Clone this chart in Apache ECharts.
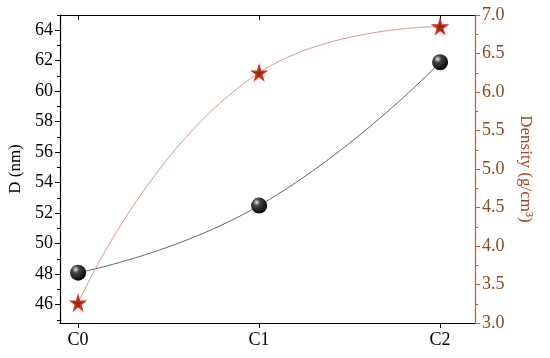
<!DOCTYPE html>
<html>
<head>
<meta charset="utf-8">
<script src="https://cdn.jsdelivr.net/npm/echarts@6/dist/echarts.min.js"></script>
<style>
  html, body { margin: 0; padding: 0; background: #fff; }
  #chart { width: 550px; height: 358px; }
</style>
</head>
<body>
<div id="chart"></div>
<script>
// samples along x
var samples = ['C0', 'C1', 'C2'];
// crystallite size D (nm), left axis
var sizeD = [48.1, 52.5, 61.9];
// density (g/cm3), right axis
var density = [3.26, 6.25, 6.85];
// tick values
var leftTicks = [46, 48, 50, 52, 54, 56, 58, 60, 62, 64];
var leftMinor = [45, 47, 49, 51, 53, 55, 57, 59, 61, 63, 65];
var xTicks = [0, 1, 2];

var myChart = echarts.init(document.getElementById('chart'));
var font = 'Liberation Serif';
var brown = '#8a4a1e';
var redAxis = '#c8553d';

var ball = new echarts.graphic.RadialGradient(0.35, 0.3, 0.75, [
  { offset: 0, color: '#e8e8e8' },
  { offset: 0.3, color: '#444' },
  { offset: 1, color: '#000' }
]);

myChart.setOption({
  backgroundColor: '#fff',
  animation: false,
  grid: { left: 60, right: 75, top: 15, bottom: 35, outerBoundsMode: 'none', containLabel: false },
  xAxis: [{
    type: 'value',
    min: -0.1,
    max: 2.193,
    splitLine: { show: false },
    axisLine: { onZero: false, lineStyle: { color: '#000', width: 1.2 } },
    axisTick: { customValues: xTicks, length: 5, lineStyle: { color: '#000' } },
    axisLabel: {
      customValues: xTicks,
      color: '#000', fontFamily: font, fontSize: 18, margin: 8,
      formatter: function (v) { return samples[Math.round(v)]; }
    }
  }, {
    type: 'value',
    position: 'top',
    min: -0.1,
    max: 2.193,
    splitLine: { show: false },
    axisLine: { onZero: false, lineStyle: { color: '#000', width: 1.2 } },
    axisTick: { customValues: xTicks, inside: true, length: 5, lineStyle: { color: '#000' } },
    axisLabel: { show: false }
  }],
  yAxis: [{
    type: 'value',
    min: 44.8,
    max: 65,
    name: 'D (nm)',
    nameLocation: 'middle',
    nameGap: 35,
    nameTextStyle: { color: '#000', fontFamily: font, fontSize: 17 },
    splitLine: { show: false },
    axisLine: { show: true, onZero: false, lineStyle: { color: '#000', width: 1.2 } },
    axisTick: { customValues: leftTicks, length: 5, lineStyle: { color: '#000' } },
    axisLabel: { customValues: leftTicks, color: '#000', fontFamily: font, fontSize: 18, margin: 7 }
  }, {
    type: 'value',
    position: 'right',
    min: 3,
    max: 7,
    interval: 0.5,
    name: 'Density (g/cm³)',
    nameLocation: 'middle',
    nameGap: 42,
    nameRotate: -90,
    nameTextStyle: { color: '#a8402a', fontFamily: font, fontSize: 17 },
    splitLine: { show: false },
    axisLine: { show: true, onZero: false, lineStyle: { color: redAxis, width: 1.2 } },
    axisTick: { length: 5, lineStyle: { color: redAxis } },
    minorTick: { show: true, splitNumber: 2, length: 3, lineStyle: { color: redAxis } },
    axisLabel: {
      color: brown, fontFamily: font, fontSize: 18, margin: 7,
      formatter: function (v) { return v.toFixed(1); }
    }
  }, {
    // minor ticks of the left axis
    type: 'value',
    position: 'left',
    offset: 0,
    min: 44.8,
    max: 65,
    splitLine: { show: false },
    axisLine: { show: false, onZero: false },
    axisTick: { customValues: leftMinor, length: 3, lineStyle: { color: '#000' } },
    axisLabel: { show: false }
  }],
  series: [{
    name: 'D',
    type: 'line',
    yAxisIndex: 0,
    smooth: 0.5,
    data: sizeD.map(function (v, i) { return [i, v]; }),
    symbol: 'circle',
    symbolSize: 16,
    itemStyle: { color: ball },
    lineStyle: { color: '#666', width: 1 },
    z: 3
  }, {
    name: 'Density',
    type: 'line',
    yAxisIndex: 1,
    smooth: 0.5,
    data: density.map(function (v, i) { return [i, v]; }),
    symbol: 'path://M50,0 L61,35 L98,35 L68,57 L79,91 L50,70 L21,91 L32,57 L2,35 L39,35 Z',
    symbolSize: 14,
    itemStyle: { color: '#7a3a10', borderColor: '#e02a20', borderWidth: 1.5 },
    lineStyle: { color: '#d4998a', width: 1 },
    z: 4
  }]
});
</script>
</body>
</html>
